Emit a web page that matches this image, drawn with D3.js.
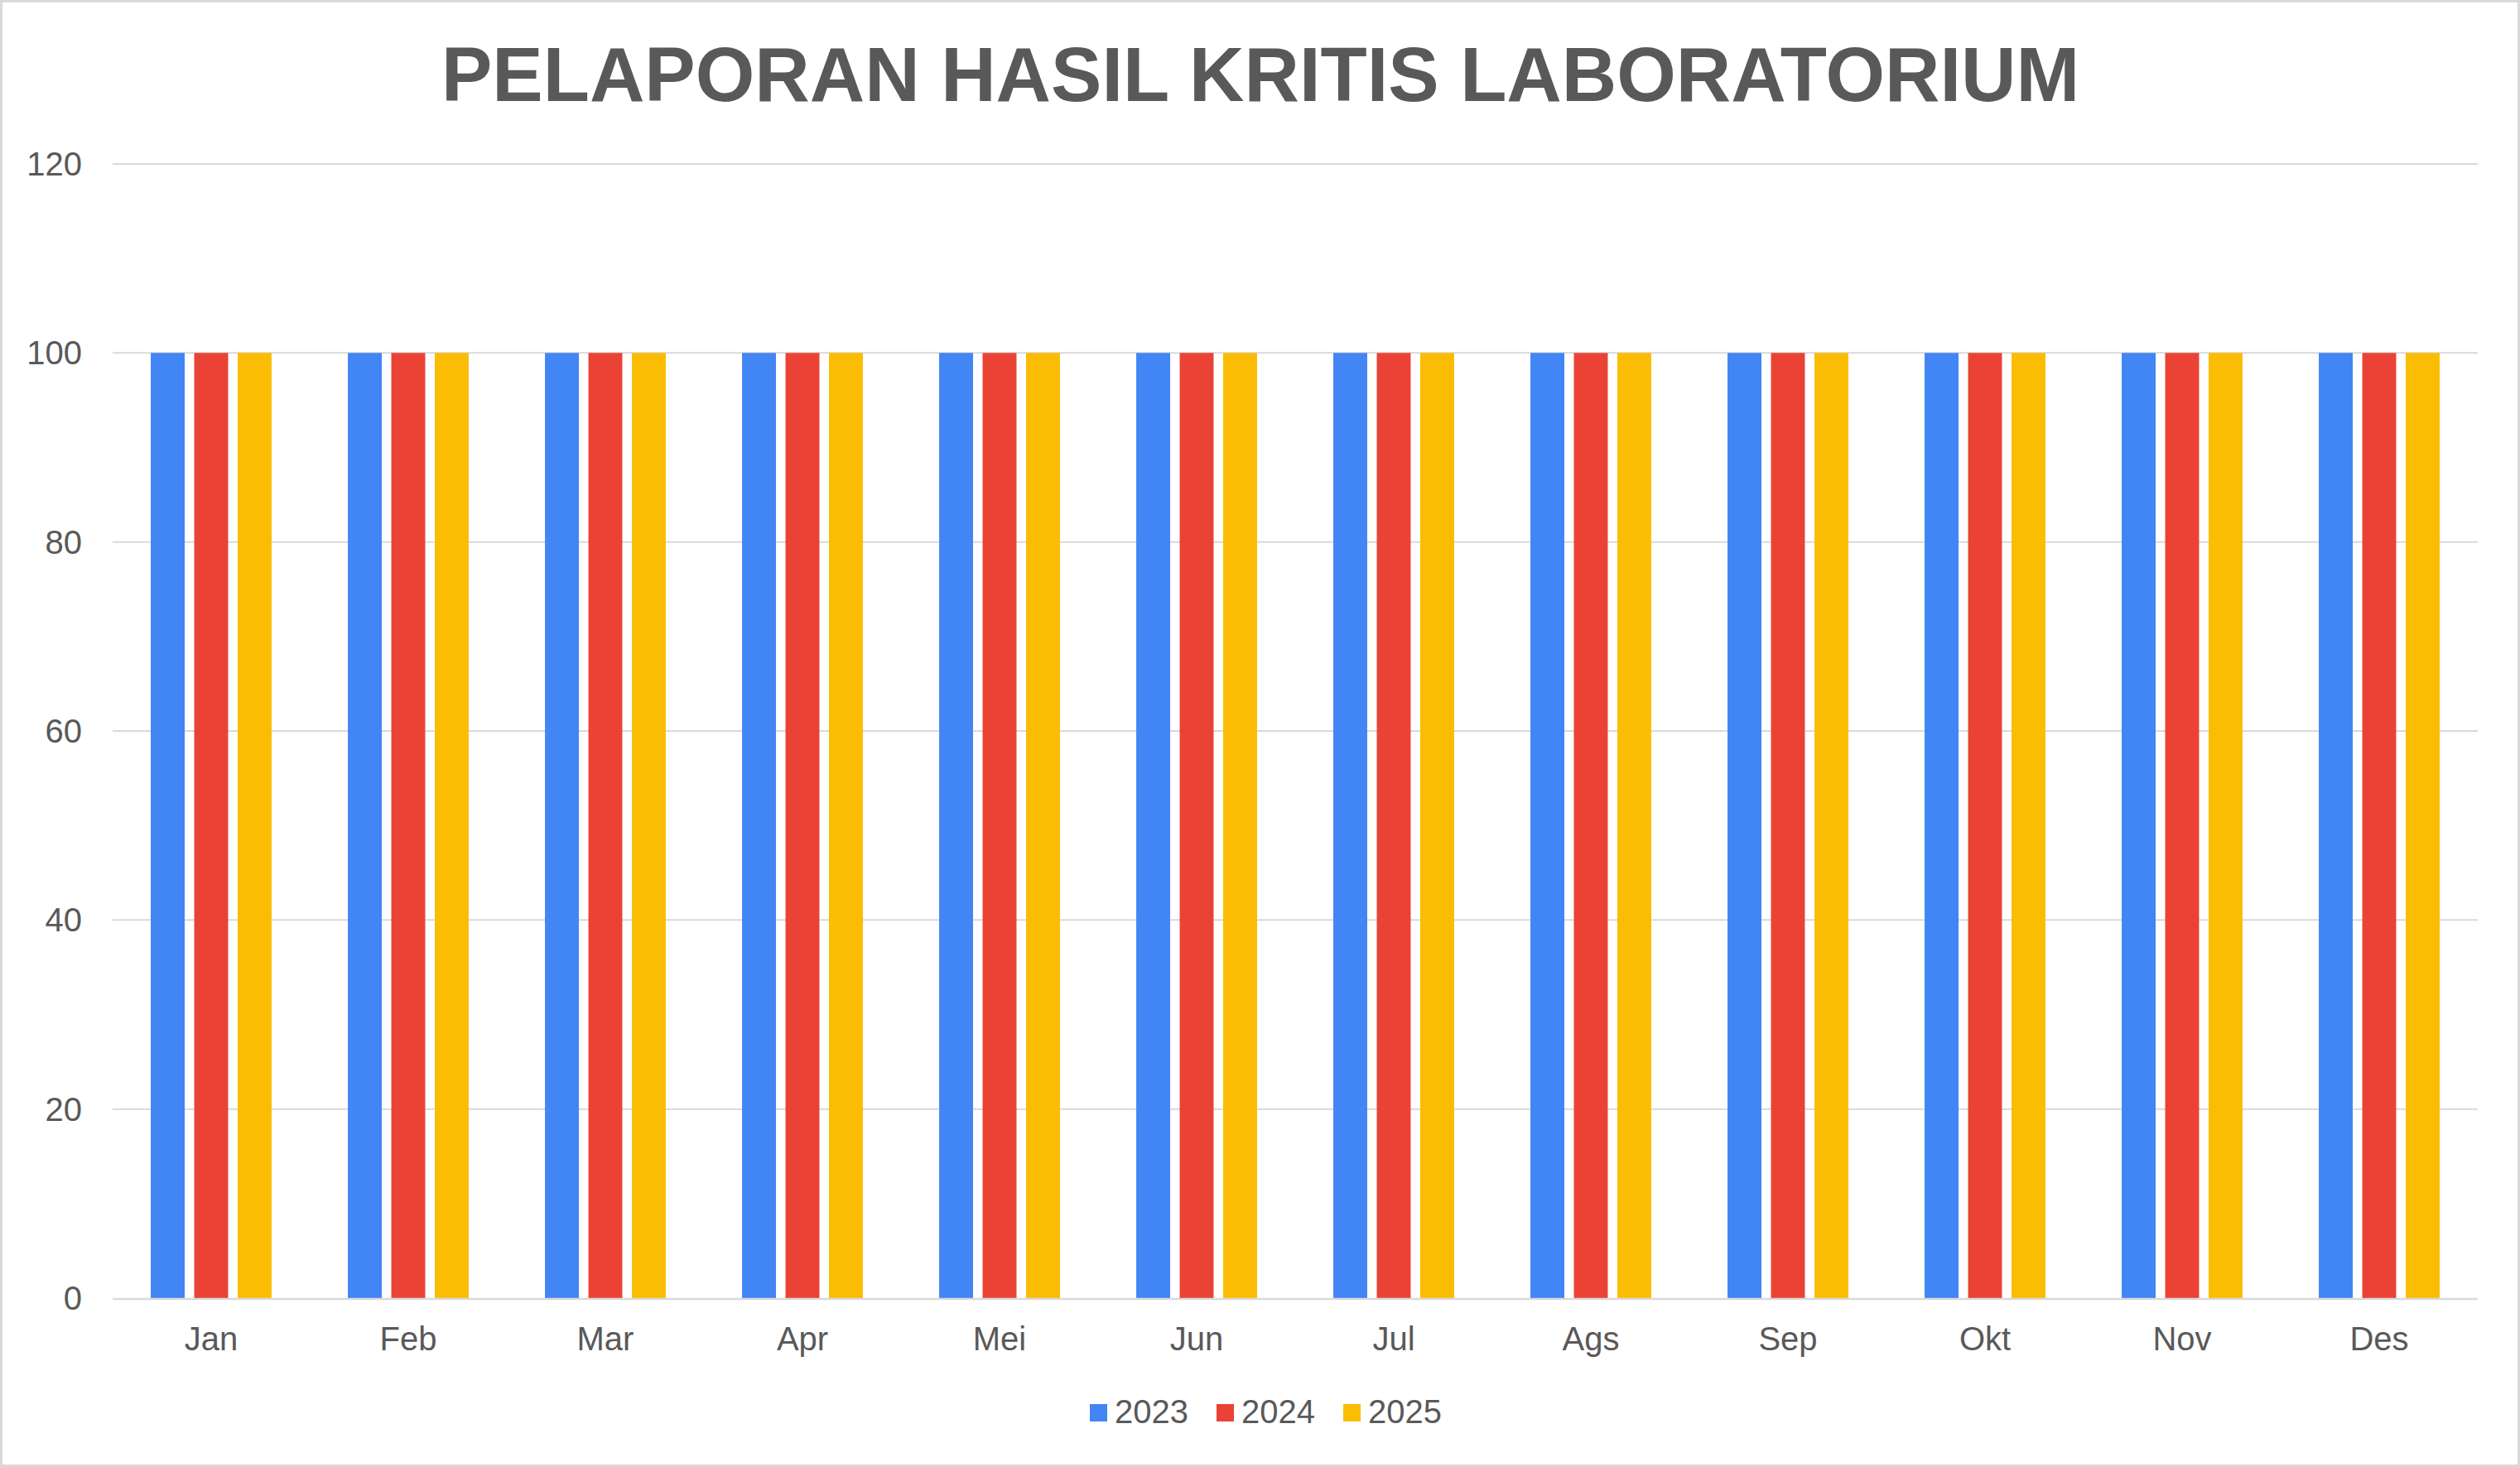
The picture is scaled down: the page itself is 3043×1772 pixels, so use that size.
<!DOCTYPE html>
<html>
<head>
<meta charset="utf-8">
<script src="https://cdn.jsdelivr.net/npm/d3@7"></script>
<style>
  html, body { margin: 0; padding: 0; background: #fff; }
  svg { display: block; font-family: "Liberation Sans", Arial, sans-serif; }
</style>
</head>
<body>
<svg id="chart" width="3043" height="1772"></svg>
<script>
const title = "PELAPORAN HASIL KRITIS LABORATORIUM";
const months = ["Jan","Feb","Mar","Apr","Mei","Jun","Jul","Ags","Sep","Okt","Nov","Des"];
const years = ["2023","2024","2025"];
const values2023 = [100,100,100,100,100,100,100,100,100,100,100,100];
const values2024 = [100,100,100,100,100,100,100,100,100,100,100,100];
const values2025 = [100,100,100,100,100,100,100,100,100,100,100,100];
const yTicks = [0,20,40,60,80,100,120];
const colors = ["#4285F4","#EA4335","#FBBC04"];

(function () {
const seriesValues = [values2023, values2024, values2025];
const data = months.map((m, i) => ({ month: m, values: years.map((yr, j) => ({ year: yr, value: seriesValues[j][i], idx: j })) }));

const W = 3043, H = 1772;
const svg = d3.select("#chart");
const textColor = "#595959";
const gridColor = "#d9d9d9";

svg.append("rect").attr("x", 1.5).attr("y", 1.5).attr("width", W - 3).attr("height", H - 3)
  .attr("fill", "#fff").attr("stroke", gridColor).attr("stroke-width", 3);

const pLeft = 136, pRight = 2992, pTop = 198, pBottom = 1568;

const x0 = d3.scaleBand().domain(months).range([pLeft, pRight]).paddingInner(0.387).paddingOuter(0.1935);
const x1 = d3.scaleBand().domain(years).range([0, x0.bandwidth()]).paddingInner(0.22).paddingOuter(0);
const y = d3.scaleLinear().domain([0, 120]).range([pBottom, pTop]);

svg.append("g").selectAll("line").data(yTicks.filter(t => t !== 0)).join("line")
  .attr("x1", pLeft).attr("x2", pRight)
  .attr("y1", d => y(d)).attr("y2", d => y(d))
  .attr("stroke", gridColor).attr("stroke-width", 2);

svg.append("g").selectAll("text").data(yTicks).join("text")
  .attr("x", 99).attr("y", d => y(d)).attr("dy", "0.35em")
  .attr("text-anchor", "end").attr("fill", textColor)
  .attr("font-size", 40).text(d => d);

const groups = svg.append("g").selectAll("g").data(data).join("g")
  .attr("transform", d => `translate(${x0(d.month)},0)`);
groups.selectAll("rect").data(d => d.values).join("rect")
  .attr("x", d => x1(d.year)).attr("width", x1.bandwidth())
  .attr("y", d => y(d.value)).attr("height", d => y(0) - y(d.value))
  .attr("fill", d => colors[d.idx]);

svg.append("line").attr("x1", pLeft).attr("x2", pRight)
  .attr("y1", y(0) + 1).attr("y2", y(0) + 1)
  .attr("stroke", gridColor).attr("stroke-width", 2.5);

svg.append("g").selectAll("text").data(months).join("text")
  .attr("x", d => x0(d) + x0.bandwidth() / 2).attr("y", 1631)
  .attr("text-anchor", "middle").attr("fill", textColor)
  .attr("font-size", 40).text(d => d);

svg.append("text").attr("x", 1522).attr("y", 122)
  .attr("text-anchor", "middle").attr("fill", textColor)
  .attr("font-size", 92).attr("font-weight", "bold").text(title);

const legendX = [1316, 1469, 1622];
const lg = svg.append("g").selectAll("g").data(years).join("g")
  .attr("transform", (d, i) => `translate(${legendX[i]},1696)`);
lg.append("rect").attr("width", 21).attr("height", 21).attr("fill", (d, i) => colors[i]);
lg.append("text").attr("x", 30).attr("y", 23)
  .attr("fill", textColor).attr("font-size", 40).text(d => d);
})();
</script>
</body>
</html>
